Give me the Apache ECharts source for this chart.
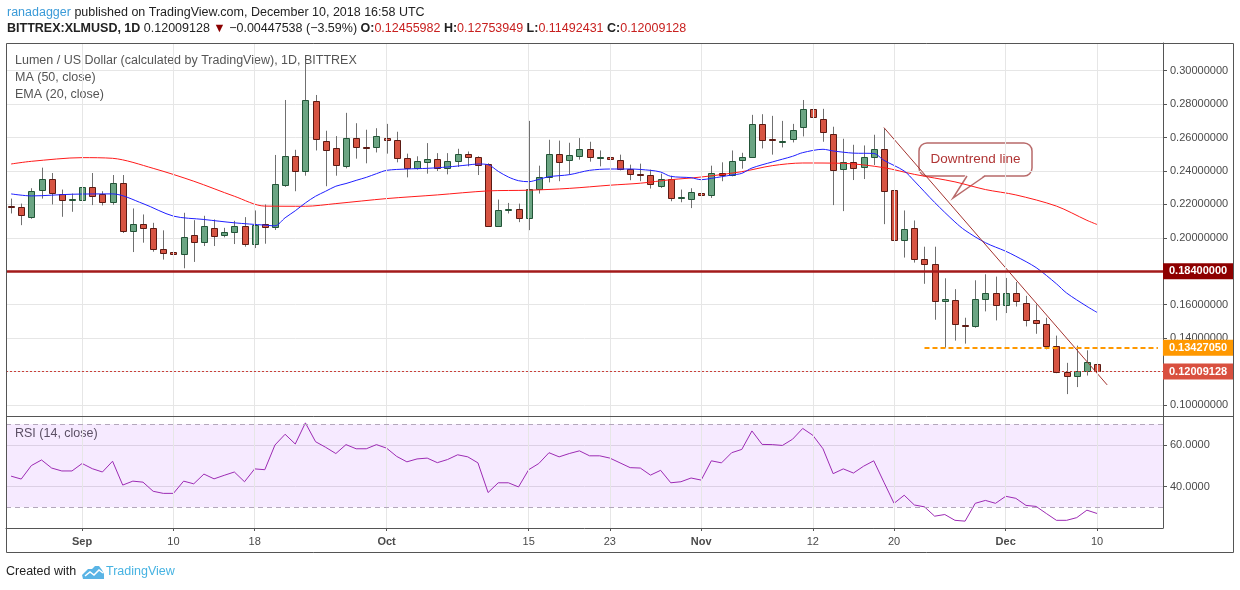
<!DOCTYPE html>
<html>
<head>
<meta charset="utf-8">
<title>Lumen / US Dollar</title>
<script src="https://cdn.jsdelivr.net/npm/echarts@6.0.0/dist/echarts.min.js"></script>
<style>
html, body { margin: 0; padding: 0; background: #fff; }
#main { width: 1240px; height: 590px; }
</style>
</head>
<body>
<div id="main"></div>
<script>
// categories: one per day, the last six are empty room on the right
var dates = [
    '08-25','08-26','08-27','08-28','08-29','08-30','08-31',
    '09-01','09-02','09-03','09-04','09-05','09-06','09-07','09-08','09-09','09-10',
    '09-11','09-12','09-13','09-14','09-15','09-16','09-17','09-18','09-19','09-20',
    '09-21','09-22','09-23','09-24','09-25','09-26','09-27','09-28','09-29','09-30',
    '10-01','10-02','10-03','10-04','10-05','10-06','10-07','10-08','10-09','10-10',
    '10-11','10-12','10-13','10-14','10-15','10-16','10-17','10-18','10-19','10-20',
    '10-21','10-22','10-23','10-24','10-25','10-26','10-27','10-28','10-29','10-30','10-31',
    '11-01','11-02','11-03','11-04','11-05','11-06','11-07','11-08','11-09','11-10',
    '11-11','11-12','11-13','11-14','11-15','11-16','11-17','11-18','11-19','11-20',
    '11-21','11-22','11-23','11-24','11-25','11-26','11-27','11-28','11-29','11-30',
    '12-01','12-02','12-03','12-04','12-05','12-06','12-07','12-08','12-09','12-10',
    '12-11','12-12','12-13','12-14','12-15','12-16'
];
var tickDates = ['09-01','09-10','09-18','10-01','10-15','10-23','11-01','11-12','11-20','12-01','12-10'];
var tickTexts = ['Sep','10','18','Oct','15','23','Nov','12','20','Dec','10'];
var monthNames = ['Sep','Oct','Nov','Dec'];

// daily OHLC, Aug 25 .. Dec 10
var opens = [
    0.2192,0.2185,0.2126,0.2287,0.2353,0.2261,0.2229,0.2227,0.2305,0.2261,0.2217,0.2329,0.2041,0.2084,0.2060,0.1935,0.1913,
    0.1905,0.2015,0.1977,0.2060,0.2019,0.2035,0.2068,0.1965,0.2080,0.2066,0.2315,0.2490,0.2398,0.2817,0.2579,0.2537,0.2428,0.2597,0.2543,0.2541,
    0.2597,0.2587,0.2478,0.2416,0.2454,0.2472,0.2416,0.2458,0.2501,0.2484,0.2442,0.2070,0.2168,0.2174,0.2118,0.2293,0.2362,0.2501,0.2466,0.2490,0.2531,0.2482,0.2484,0.2468,
    0.2412,0.2383,0.2374,0.2311,0.2355,0.2241,0.2233,0.2269,0.2257,0.2388,
    0.2376,0.2466,0.2484,0.2680,0.2589,0.2576,0.2593,0.2662,0.2770,0.2710,
    0.2621,0.2412,0.2454,0.2424,0.2484,0.2531,0.2289,0.1985,0.2060,0.1876,
    0.1846,0.1625,0.1631,0.1479,0.1474,0.1637,0.1673,0.1601,0.1673,0.1613,
    0.1508,0.1486,0.1351,0.1196,0.1176,0.1204,0.12455982
];
var highs = [
    0.2235,0.2205,0.2297,0.2420,0.2388,0.2289,0.2265,0.2376,0.2388,0.2279,0.2376,0.2376,0.2176,0.2140,0.2090,0.2045,0.1971,
    0.2150,0.2106,0.2132,0.2110,0.2060,0.2102,0.2124,0.2164,0.2200,0.2496,0.2825,0.2527,0.3044,0.2855,0.2641,0.2609,0.2748,0.2686,0.2647,0.2656,
    0.2682,0.2635,0.2504,0.2488,0.2567,0.2507,0.2507,0.2533,0.2517,0.2488,0.2446,0.2229,0.2209,0.2205,0.2700,0.2432,0.2587,0.2582,0.2569,0.2597,0.2575,0.2523,0.2539,0.2498,
    0.2438,0.2444,0.2408,0.2384,0.2372,0.2289,0.2297,0.2309,0.2432,0.2452,
    0.2523,0.2509,0.2736,0.2740,0.2730,0.2700,0.2682,0.2825,0.2891,0.2772,
    0.2665,0.2593,0.2557,0.2553,0.2617,0.2656,0.2388,0.2164,0.2104,0.1947,
    0.1947,0.1758,0.1693,0.1522,0.1746,0.1782,0.1768,0.1760,0.1736,0.1653,
    0.1601,0.1522,0.1415,0.1252,0.1355,0.1327,0.12753949
];
var lows = [
    0.2146,0.2076,0.2114,0.2235,0.2200,0.2126,0.2156,0.2209,0.2196,0.2194,0.2198,0.2029,0.1915,0.1971,0.1917,0.1870,0.1856,
    0.1818,0.1856,0.1951,0.1951,0.2003,0.1963,0.1947,0.1939,0.1965,0.2047,0.2305,0.2279,0.2372,0.2523,0.2309,0.2372,0.2416,0.2474,0.2446,0.2511,
    0.2504,0.2452,0.2362,0.2408,0.2384,0.2400,0.2380,0.2424,0.2428,0.2376,0.2066,0.2066,0.2146,0.2094,0.2046,0.2265,0.2332,0.2339,0.2378,0.2468,0.2456,0.2428,0.2428,0.2404,
    0.2345,0.2339,0.2295,0.2299,0.2219,0.2213,0.2178,0.2237,0.2239,0.2339,
    0.2368,0.2414,0.2478,0.2535,0.2498,0.2541,0.2571,0.2607,0.2696,0.2575,
    0.2196,0.2160,0.2346,0.2352,0.2436,0.2082,0.1786,0.1882,0.1852,0.1725,
    0.1510,0.1343,0.1385,0.1367,0.1462,0.1560,0.1506,0.1550,0.1589,0.1470,
    0.1426,0.1333,0.1190,0.1065,0.1107,0.1176,0.11492431
];
var closes = [
    0.2187,0.2136,0.2281,0.2353,0.2269,0.2227,0.2233,0.2305,0.2251,0.2215,0.2329,0.2043,0.2080,0.2058,0.1935,0.1911,0.1905,
    0.2007,0.1977,0.2068,0.2013,0.2037,0.2068,0.1965,0.2076,0.2066,0.2323,0.2490,0.2400,0.2823,0.2589,0.2525,0.2434,0.2597,0.2541,0.2539,0.2609,
    0.2583,0.2476,0.2416,0.2460,0.2474,0.2416,0.2460,0.2501,0.2482,0.2436,0.2072,0.2168,0.2171,0.2120,0.2293,0.2364,0.2501,0.2452,0.2496,0.2531,0.2484,0.2485,0.2472,0.2412,
    0.2382,0.2380,0.2323,0.2355,0.2239,0.2243,0.2275,0.2257,0.2388,0.2378,
    0.2460,0.2484,0.2680,0.2585,0.2587,0.2579,0.2645,0.2770,0.2722,0.2633,
    0.2406,0.2454,0.2416,0.2484,0.2529,0.2281,0.1989,0.2054,0.1876,0.1842,
    0.1625,0.1637,0.1482,0.1476,0.1637,0.1669,0.1601,0.1669,0.1621,0.1506,
    0.1488,0.1351,0.1196,0.1176,0.1204,0.1256,0.12009128
];

// MA (50) and EMA (20)
var maDates = ['08-25','08-27','09-01','09-04','09-08','09-12','09-16','09-19','09-23','09-26','10-01','10-06','10-11','10-15','10-19','10-23','10-26','10-29','11-01','11-05','11-08','11-11','11-15','11-19','11-22','11-26','11-29','12-02','12-06','12-09','12-10'];
var maValues = [0.2442,0.2458,0.2480,0.2476,0.2416,0.2339,0.2249,0.2190,0.2189,0.2205,0.2235,0.2257,0.2281,0.2285,0.2296,0.2315,0.2327,0.2348,0.2364,0.2396,0.2432,0.2448,0.2446,0.2420,0.2380,0.2335,0.2289,0.2257,0.2190,0.2105,0.2080];
var emaDates = ['08-25','08-27','08-31','09-04','09-07','09-10','09-13','09-16','09-19','09-20','09-21','09-22','09-23','09-24','09-25','09-26','09-27','09-28','09-29','09-30','10-01','10-03','10-05','10-07','10-09','10-10','10-11','10-12','10-13','10-14','10-15','10-16','10-17','10-19','10-21','10-23','10-25','10-27','10-28','10-29','10-31','11-01','11-02','11-04','11-05','11-06','11-08','11-10','11-11','11-13','11-14','11-16','11-18','11-19','11-21','11-22','11-24','11-26','11-27','11-29','12-01','12-02','12-04','12-06','12-07','12-09','12-10'];
var emaValues = [0.2263,0.2251,0.2261,0.2263,0.2205,0.2130,0.2110,0.2090,0.2076,0.2072,0.2120,0.2162,0.2209,0.2249,0.2279,0.2309,0.2325,0.2344,0.2362,0.2384,0.2404,0.2412,0.2416,0.2424,0.2436,0.2442,0.2438,0.2398,0.2364,0.2342,0.2336,0.2350,0.2366,0.2378,0.2404,0.2412,0.2412,0.2404,0.2394,0.2368,0.2360,0.2348,0.2356,0.2376,0.2386,0.2418,0.2454,0.2488,0.2510,0.2530,0.2520,0.2507,0.2505,0.2464,0.2400,0.2340,0.2212,0.2095,0.2045,0.1971,0.1920,0.1890,0.1822,0.1725,0.1670,0.1590,0.1554];

// RSI (14), Aug 25 .. Dec 10
var rsi = [
    45.0,43.6,50.1,52.8,48.9,47.5,47.5,51.1,48.6,47.0,52.2,40.7,42.6,42.1,37.7,36.7,36.7,
    42.6,41.3,46.0,43.7,45.4,47.0,42.3,48.5,48.1,60.0,65.2,60.5,70.7,61.6,58.9,55.9,60.2,58.2,58.2,60.2,
    58.5,54.5,51.9,53.3,53.7,51.5,53.0,55.3,54.3,51.4,37.1,41.8,41.8,39.8,48.1,51.1,56.3,54.3,55.9,57.2,54.8,54.8,53.7,51.4,
    49.1,48.9,45.5,47.8,41.8,42.3,44.1,43.1,52.4,51.4,
    56.3,57.9,66.8,60.3,60.2,59.8,62.8,68.0,64.7,58.2,
    46.2,48.5,46.5,49.8,52.4,42.1,31.9,35.8,31.1,30.2,
    25.7,26.5,23.7,23.3,31.9,33.3,31.9,35.3,34.3,30.9,
    30.4,27.0,23.7,23.7,25.0,28.6,27.0
];

// drawn levels
var supportLevel = 0.184;
var breakLevel = 0.1342705;
var breakFrom = '11-23';
var lastPrice = 0.12009128;
var trendDates = ['11-19', '12-11'];
var trendValues = [0.2660, 0.1120];

var font = "'Liberation Sans', Arial, sans-serif";
var chart = echarts.init(document.getElementById('main'));

var candleData = [];
for (var i = 0; i < opens.length; i++) {
    candleData.push([i, opens[i], closes[i], lows[i], highs[i]]);
}

function pairs(xs, ys) {
    return xs.map(function (x, k) { return [x, ys[k]]; });
}

function isTick(idx, value) {
    return tickDates.indexOf(value) >= 0;
}

function renderCandle(params, api) {
    var idx = api.value(0);
    var x = Math.round(api.coord([idx, 0])[0]) + 0.5;
    var yo = api.coord([idx, api.value(1)])[1];
    var yc = api.coord([idx, api.value(2)])[1];
    var yl = api.coord([idx, api.value(3)])[1];
    var yh = api.coord([idx, api.value(4)])[1];
    var up = api.value(2) >= api.value(1);
    var top = Math.round(Math.min(yo, yc)) + 0.5;
    var bot = Math.round(Math.max(yo, yc)) + 0.5;
    if (bot - top < 1) bot = top + 1;
    return {
        type: 'group',
        children: [
            { type: 'line', shape: { x1: x, y1: yh, x2: x, y2: yl }, style: { stroke: '#707070', lineWidth: 1 } },
            { type: 'rect', shape: { x: x - 3, y: top, width: 6, height: bot - top },
              style: { fill: up ? '#6ba583' : '#d75442', stroke: up ? '#225437' : '#5b1a13', lineWidth: 1 } }
        ]
    };
}

function tag(text, bg, distance) {
    return {
        show: true, position: 'end', distance: distance, formatter: text,
        color: '#fff', fontWeight: 'bold', fontSize: 11, fontFamily: font,
        backgroundColor: bg, padding: [2, 6, 2, 6], lineHeight: 12
    };
}

var gridLines = tickDates.map(function (d) { return { xAxis: d }; });

chart.setOption({
    animation: false,
    textStyle: { fontFamily: font },
    grid: [
        { left: 6, top: 43, width: 1157, height: 373 },
        { left: 6, top: 416, width: 1157, height: 112 }
    ],
    xAxis: [
        { type: 'category', gridIndex: 0, data: dates, boundaryGap: true, show: false },
        {
            type: 'category', gridIndex: 1, data: dates, boundaryGap: true,
            axisLine: { lineStyle: { color: '#555' } },
            axisTick: { show: true, alignWithLabel: true, interval: isTick, length: 3, lineStyle: { color: '#555' } },
            axisLabel: {
                interval: isTick, margin: 8, color: '#4a4a4a', fontSize: 11,
                formatter: function (v) {
                    var t = tickTexts[tickDates.indexOf(v)];
                    return monthNames.indexOf(t) >= 0 ? '{m|' + t + '}' : t;
                },
                rich: { m: { fontWeight: 'bold', fontSize: 11, color: '#4a4a4a' } }
            },
            splitLine: { show: false }
        }
    ],
    yAxis: [
        {
            type: 'value', gridIndex: 0, position: 'right', scale: true,
            min: 0.0934, max: 0.3166, minInterval: 0.02, maxInterval: 0.02,
            axisLine: { show: true, lineStyle: { color: '#555' } },
            axisTick: { show: true, length: 4, lineStyle: { color: '#555' } },
            axisLabel: { margin: 7, color: '#4a4a4a', fontSize: 11, showMinLabel: false, showMaxLabel: false,
                formatter: function (v) { return v.toFixed(8); } },
            splitLine: { lineStyle: { color: '#e6e6e6' } }
        },
        {
            type: 'value', gridIndex: 1, position: 'right',
            min: 20, max: 74, interval: 20,
            axisLine: { show: true, lineStyle: { color: '#555' } },
            axisTick: { show: true, length: 4, lineStyle: { color: '#555' } },
            axisLabel: { margin: 7, color: '#4a4a4a', fontSize: 11, showMinLabel: false, showMaxLabel: false,
                formatter: function (v) { return v.toFixed(4); } },
            splitLine: { lineStyle: { color: '#e3e3e3' } }
        }
    ],
    series: [
        {
            type: 'line', xAxisIndex: 0, yAxisIndex: 0, data: [], z: 1, silent: true,
            markLine: { symbol: 'none', silent: true, label: { show: false },
                lineStyle: { color: '#e6e6e6', width: 1, type: 'solid' }, data: gridLines }
        },
        {
            type: 'custom', name: 'XLMUSD', xAxisIndex: 0, yAxisIndex: 0, z: 2,
            renderItem: renderCandle, data: candleData,
            encode: { x: 0, y: [1, 2, 3, 4] }
        },
        {
            type: 'line', name: 'MA (50, close)', xAxisIndex: 0, yAxisIndex: 0, z: 3,
            data: pairs(maDates, maValues), showSymbol: false, smooth: 0.3,
            lineStyle: { color: '#ff1a1a', width: 1 }
        },
        {
            type: 'line', name: 'EMA (20, close)', xAxisIndex: 0, yAxisIndex: 0, z: 3,
            data: pairs(emaDates, emaValues), showSymbol: false, smooth: 0.3,
            lineStyle: { color: '#1f1fff', width: 1 }
        },
        {
            type: 'line', name: 'Downtrend line', xAxisIndex: 0, yAxisIndex: 0, z: 4,
            data: pairs(trendDates, trendValues), showSymbol: false,
            lineStyle: { color: '#a3332f', width: 1 },
            markLine: {
                symbol: 'none', silent: true,
                data: [
                    { yAxis: supportLevel, lineStyle: { color: '#a31a1a', width: 2.5, type: 'solid' },
                      label: tag(supportLevel.toFixed(8), '#8e0000', 0) },
                    [
                        { coord: [breakFrom, breakLevel], lineStyle: { color: '#ff9800', width: 2, type: [5, 3] },
                          label: tag(breakLevel.toFixed(8), '#ff9800', 5) },
                        { coord: [dates[dates.length - 1], breakLevel] }
                    ],
                    { yAxis: lastPrice, lineStyle: { color: '#c9403a', width: 1, type: [2, 2] },
                      label: tag(lastPrice.toFixed(8), '#d9503f', 0) }
                ]
            }
        },
        {
            type: 'line', xAxisIndex: 1, yAxisIndex: 1, data: [], z: 1, silent: true,
            markLine: { symbol: 'none', silent: true, label: { show: false },
                lineStyle: { color: '#e6e6e6', width: 1, type: 'solid' }, data: gridLines }
        },
        {
            type: 'line', name: 'RSI (14, close)', xAxisIndex: 1, yAxisIndex: 1, z: 3,
            data: rsi, showSymbol: false,
            lineStyle: { color: '#9c2ab3', width: 1 },
            markArea: { silent: true, itemStyle: { color: 'rgba(153, 21, 255, 0.09)' },
                data: [[{ yAxis: 70 }, { yAxis: 30 }]] },
            markLine: { symbol: 'none', silent: true, label: { show: false },
                lineStyle: { color: '#b3a7bb', width: 1, type: [5, 4] },
                data: [{ yAxis: 70 }, { yAxis: 30 }] }
        }
    ],
    graphic: [
        { type: 'rect', silent: true, z: 100, shape: { x: 6.5, y: 43.5, width: 1227, height: 509 },
          style: { fill: 'none', stroke: '#555', lineWidth: 1 } },
        { type: 'line', silent: true, z: 100, shape: { x1: 6.5, y1: 416.5, x2: 1233.5, y2: 416.5 },
          style: { stroke: '#555', lineWidth: 1 } },
        { type: 'text', x: 7, y: 13, silent: true,
          style: { text: '{u|ranadagger} published on TradingView.com, December 10, 2018 16:58 UTC',
                   fill: '#222', fontSize: 12.5, fontFamily: font, verticalAlign: 'middle',
                   rich: { u: { fill: '#3b9bd8', fontSize: 12.5, fontFamily: font } } } },
        { type: 'text', x: 7, y: 29, silent: true,
          style: { text: '{b|BITTREX:XLMUSD, 1D} 0.12009128 {d|\u25BC} \u22120.00447538 (\u22123.59%) ' +
                         '{b|O:}{r|0.12455982} {b|H:}{r|0.12753949} {b|L:}{r|0.11492431} {b|C:}{r|0.12009128}',
                   fill: '#222', fontSize: 12.5, fontFamily: font, verticalAlign: 'middle',
                   rich: {
                       b: { fill: '#222', fontWeight: 'bold', fontSize: 12.5, fontFamily: font },
                       d: { fill: '#8b0000', fontSize: 12.5, fontFamily: font },
                       r: { fill: '#c8201f', fontSize: 12.5, fontFamily: font }
                   } } },
        { type: 'text', x: 15, y: 61, silent: true,
          style: { text: 'Lumen / US Dollar (calculated by TradingView), 1D, BITTREX', fill: '#555',
                   fontSize: 12.5, fontFamily: font, verticalAlign: 'middle' } },
        { type: 'text', x: 15, y: 78, silent: true,
          style: { text: 'MA (50, close)', fill: '#555', fontSize: 12.5, fontFamily: font, verticalAlign: 'middle' } },
        { type: 'text', x: 15, y: 95, silent: true,
          style: { text: 'EMA (20, close)', fill: '#555', fontSize: 12.5, fontFamily: font, verticalAlign: 'middle' } },
        { type: 'text', x: 15, y: 434, silent: true,
          style: { text: 'RSI (14, close)', fill: '#555', fontSize: 12.5, fontFamily: font, verticalAlign: 'middle' } },
        {
            type: 'group', x: 919, y: 143, silent: true, z: 50,
            children: [
                { type: 'rect', shape: { x: 0, y: 0, width: 113, height: 33, r: 8 },
                  style: { fill: '#fff', stroke: '#b86a6a', lineWidth: 1.5 } },
                { type: 'polygon', shape: { points: [[47, 31], [67, 31], [34, 55]] },
                  style: { fill: '#fff' } },
                { type: 'polyline', shape: { points: [[66, 33], [34, 55], [48, 33]] },
                  style: { stroke: '#b86a6a', lineWidth: 1.5, fill: 'none' } },
                { type: 'text', x: 56.5, y: 16, style: { text: 'Downtrend line', fill: '#b03535', fontSize: 13.5,
                  fontFamily: font, align: 'center', verticalAlign: 'middle' } }
            ]
        },
        { type: 'text', x: 6, y: 572, silent: true,
          style: { text: 'Created with', fill: '#222', fontSize: 12.5, fontFamily: font, verticalAlign: 'middle' } },
        {
            type: 'group', x: 82, y: 565, silent: true,
            children: [
                { type: 'polygon', shape: { points: [[1, 14], [0, 10], [3, 7], [6, 4], [10, 4], [13, 1], [17, 1], [20, 5], [22, 9], [22, 14]] },
                  style: { fill: '#5ab4e5' } },
                { type: 'polyline', shape: { points: [[3, 11], [8, 7], [12, 10], [17, 5], [21, 8]] },
                  style: { stroke: '#fff', lineWidth: 1.5, fill: 'none' } }
            ]
        },
        { type: 'text', x: 106, y: 572, silent: true,
          style: { text: 'TradingView', fill: '#47b3e2', fontSize: 12.5, fontFamily: font, verticalAlign: 'middle' } }
    ]
});
</script>
</body>
</html>
